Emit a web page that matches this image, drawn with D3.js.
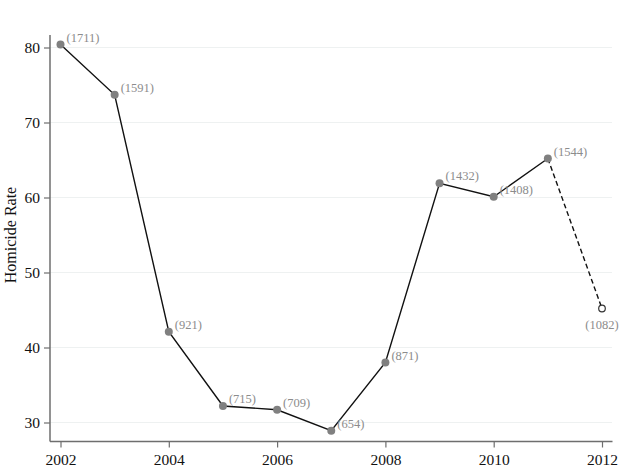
<!DOCTYPE html>
<html><head><meta charset="utf-8">
<script src="https://cdn.jsdelivr.net/npm/d3@7"></script>
<style>body{margin:0;background:#fff}svg{display:block}</style>
</head><body>
<svg id="c" width="624" height="476"></svg>
<script>
const years = [2002,2003,2004,2005,2006,2007,2008,2009,2010,2011,2012];
const rates = [80.4,73.7,42.1,32.2,31.7,28.9,38.0,61.9,60.1,65.2,45.2];
const counts = ["(1711)","(1591)","(921)","(715)","(709)","(654)","(871)","(1432)","(1408)","(1544)","(1082)"];
const xTicks = [2002,2004,2006,2008,2010,2012];
const yTicks = [30,40,50,60,70,80];
const yTitle = "Homicide Rate";

const svg = d3.select("#c");
const font = "'Liberation Serif','Times New Roman',serif";
const x = d3.scaleLinear().domain([2002,2012]).range([60.5,602]);
const y = d3.scaleLinear().domain([30,80]).range([422.5,47.5]);
const axisX = 50, axisY = 441.5;

// gridlines
svg.append("g").selectAll("line").data(yTicks).join("line")
  .attr("x1",axisX).attr("x2",612).attr("y1",d=>y(d)).attr("y2",d=>y(d))
  .attr("stroke","#eef1f1").attr("stroke-width",1.2);

// axes
const gx = svg.append("g").attr("transform",`translate(0,${axisY})`)
  .call(d3.axisBottom(x).tickValues(xTicks).tickFormat(d3.format("d")).tickSize(6).tickPadding(6));
gx.select(".domain").attr("d",`M${axisX},0H612.5`);
const gy = svg.append("g").attr("transform",`translate(${axisX},0)`)
  .call(d3.axisLeft(y).tickValues(yTicks).tickSize(6).tickPadding(4));
gy.select(".domain").attr("d",`M0,35V${axisY}`);
[gx,gy].forEach(g=>{
  g.select(".domain").attr("stroke","#6e6e6e").attr("stroke-width",1.5);
  g.selectAll(".tick line").attr("stroke","#6e6e6e").attr("stroke-width",1.2);
  g.selectAll(".tick text").attr("fill","#111").style("font-family",font).style("font-size","15.5px");
});

svg.append("text").attr("transform",`translate(16,235) rotate(-90)`)
  .attr("text-anchor","middle").style("font-family",font).style("font-size","16px")
  .attr("fill","#111").text(yTitle);

const pts = years.map((yr,i)=>({yr,v:rates[i],c:counts[i]}));
const line = d3.line().x(d=>x(d.yr)).y(d=>y(d.v));
svg.append("path").datum(pts.slice(0,10)).attr("d",line)
  .attr("fill","none").attr("stroke","#111").attr("stroke-width",1.4);
svg.append("path").datum(pts.slice(9)).attr("d",line)
  .attr("fill","none").attr("stroke","#111").attr("stroke-width",1.4).attr("stroke-dasharray","5,3");

svg.append("g").selectAll("circle").data(pts.slice(0,10)).join("circle")
  .attr("cx",d=>x(d.yr)).attr("cy",d=>y(d.v)).attr("r",4).attr("fill","#808080");
svg.append("g").selectAll("circle").data(pts.slice(10)).join("circle")
  .attr("cx",d=>x(d.yr)).attr("cy",d=>y(d.v)).attr("r",3.3).attr("fill","#fff")
  .attr("stroke","#333").attr("stroke-width",1.2);

svg.append("g").selectAll("text").data(pts).join("text")
  .attr("x",(d,i)=> i===10 ? x(d.yr) : x(d.yr)+6)
  .attr("y",(d,i)=> i===10 ? y(d.v)+20 : y(d.v)-3)
  .attr("text-anchor",(d,i)=> i===10 ? "middle" : "start")
  .style("font-family",font).style("font-size","12.5px").attr("fill","#8c8c8c")
  .text(d=>d.c);
</script>
</body></html>
